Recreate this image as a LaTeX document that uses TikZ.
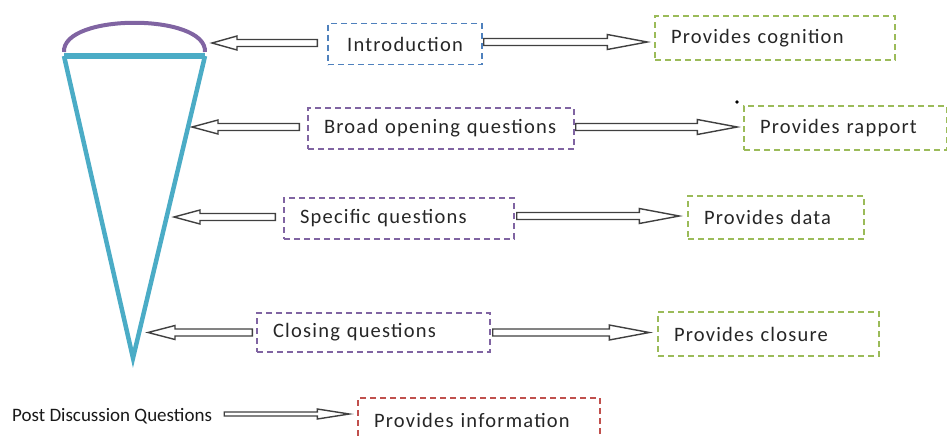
\documentclass[tikz,border=0pt]{standalone}
\usepackage{fontspec}
\setmainfont{Carlito}
\newfontfamily\boxfont[LetterSpace=6]{Carlito}
\usetikzlibrary{calc}

\definecolor{funnelcyan}{HTML}{4BACC6}
\definecolor{funnelpurple}{HTML}{8064A2}
\definecolor{dashblue}{HTML}{4F81BD}
\definecolor{dashpurple}{HTML}{8064A2}
\definecolor{dashgreen}{HTML}{9BBB59}
\definecolor{dashred}{HTML}{C0504D}
\definecolor{arrowgray}{HTML}{404040}

% hollow block arrow: start, tip, head length, half shaft, half head
\newcommand{\blockarrow}[5]{%
  \draw[hollowarrow] let \p1=(#1), \p2=(#2), \p3=($(#2)!#3!(#1)$) in
    (\x1,\y1+#4) -- (\x3,\y1+#4) -- (\x3,\y1+#5) -- (\x2,\y1)
    -- (\x3,\y1-#5) -- (\x3,\y1-#4) -- (\x1,\y1-#4) -- cycle;}

\tikzset{
  stagebox/.style={draw=#1, dash pattern=on 6pt off 4pt, line width=1.4pt,
    minimum height=41pt, inner xsep=16pt, align=left, anchor=center,
    font=\boxfont\fontsize{20.5}{24}\selectfont, text=black!85},
  hollowarrow/.style={draw=arrowgray, fill=white, line width=1.4pt, line join=miter},
}

\begin{document}
\begin{tikzpicture}[x=1pt, y=-1pt]
\useasboundingbox (0,0) rectangle (947,437);

% funnel
\coordinate (fL) at (64,56);
\coordinate (fR) at (205,56);
\coordinate (fB) at (133,358);
\draw[funnelpurple, line width=4pt] (64,52) .. controls (62,13) and (207,13) .. (205,52);
\draw[funnelcyan, line width=4.5pt, line join=miter] (fR) -- (fB) -- (fL);
\draw[funnelcyan, line width=6pt] (fL) -- (fR);

% stages
\node[stagebox=dashblue, minimum width=154pt, text width=122pt, align=center] (intro) at (405,44) {Introduction};
\node[stagebox=dashpurple, minimum width=266pt, text width=234pt] (broad) at (441,128.5) {Broad opening questions};
\node[stagebox=dashpurple, minimum width=230pt, text width=198pt] (spec) at (399,218.5) {Specific questions};
\node[stagebox=dashpurple, minimum width=233pt, text width=201pt, minimum height=39pt] (close) at (373.5,332.5) {Closing questions};

% outcomes
\node[stagebox=dashgreen, minimum width=240pt, text width=208pt, minimum height=44pt] (cog) at (775,38) {Provides cognition};
\node[stagebox=dashgreen, minimum width=203pt, text width=171pt, minimum height=44pt] (rapport) at (845.5,128) {Provides rapport};
\node[stagebox=dashgreen, minimum width=176pt, text width=144pt, minimum height=43pt] (data) at (776,217.5) {Provides data};
\node[stagebox=dashgreen, minimum width=221pt, text width=189pt, minimum height=44pt] (closure) at (768.5,334) {Provides closure};
\node[stagebox=dashred, minimum width=242pt, text width=210pt, minimum height=44pt] (info) at (479,420) {Provides information};

\node[font=\fontsize{19}{22}\selectfont, inner sep=0pt, anchor=west, text=black!90] (post) at (12,416) {Post Discussion Questions};

% arrow tips on the funnel
\coordinate (t1) at (212,43);
\coordinate (t2) at (192,127);
\coordinate (t3) at (174,217);
\coordinate (t4) at (148,332);

% arrows towards the funnel
\blockarrow{[xshift=-10pt,yshift=1pt]intro.west}{t1}{25pt}{3.5pt}{7pt}
\blockarrow{[xshift=-8pt,yshift=1.5pt]broad.west}{t2}{26pt}{3.5pt}{7pt}
\blockarrow{[xshift=-8pt,yshift=1.5pt]spec.west}{t3}{26pt}{3.5pt}{7pt}
\blockarrow{[xshift=-4pt]close.west}{t4}{27pt}{3.5pt}{7pt}

% arrows towards the outcomes
\blockarrow{[xshift=1pt,yshift=2pt]intro.east}{[xshift=-7pt]cog.west}{40pt}{3.5pt}{7.5pt}
\blockarrow{[xshift=1pt,yshift=1.5pt]broad.east}{[xshift=-6pt]rapport.west}{40pt}{3.5pt}{7.5pt}
\blockarrow{[xshift=2pt,yshift=2.5pt]spec.east}{[xshift=-8pt]data.west}{40pt}{3.5pt}{7.5pt}
\blockarrow{[xshift=2pt]close.east}{[xshift=-8pt]closure.west}{40pt}{3.5pt}{7.5pt}
\blockarrow{[xshift=12pt,yshift=2pt]post.east}{[xshift=-8pt]info.west}{32pt}{2pt}{5pt}

% stray dot
\fill (737,102) circle (1.8pt);
\end{tikzpicture}
\end{document}
